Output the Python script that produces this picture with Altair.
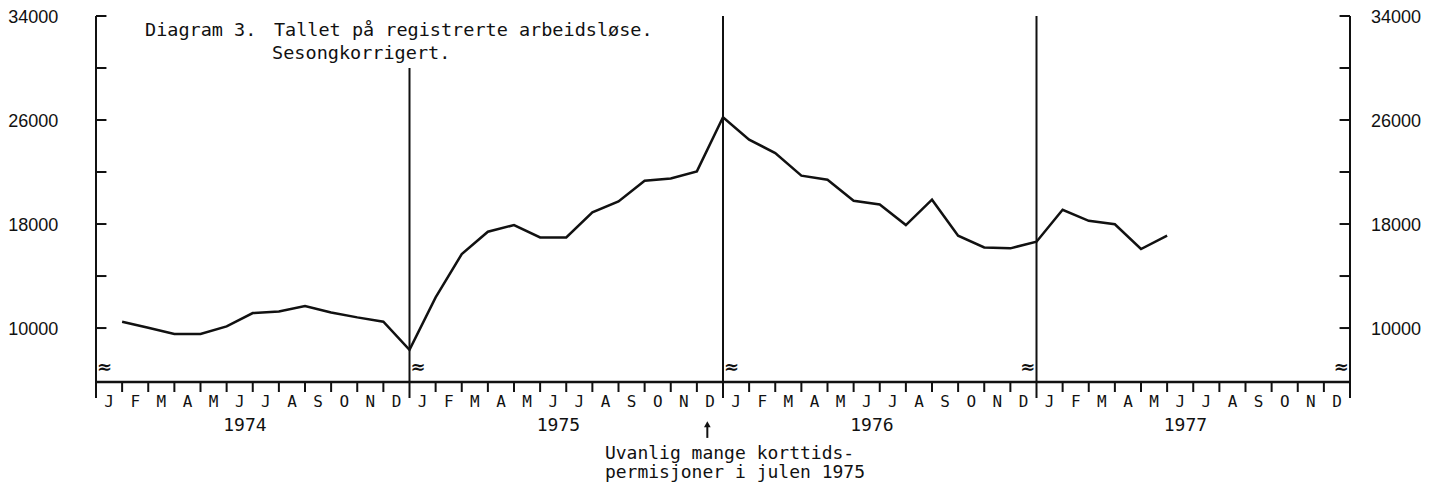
import altair as alt
import pandas as pd

# ---- data ----
month_letters = ["J", "F", "M", "A", "M", "J", "J", "A", "S", "O", "N", "D"]
years = [1974, 1975, 1976, 1977]
v1974 = [10490, 10020, 9540, 9540, 10130, 11150, 11280, 11690, 11200, 10820, 10490, 8330]
v1975 = [12360, 15690, 17410, 17920, 16970, 16970, 18900, 19740, 21330, 21510, 22050, 26210]
v1976 = [24490, 23460, 21720, 21410, 19790, 19510, 17920, 19870, 17100, 16200, 16130, 16640]
v1977 = [19100, 18250, 17980, 16080, 17100]
y_tick_values = [10000, 14000, 18000, 22000, 26000, 30000, 34000]
y_label_values = [10000, 18000, 26000, 34000]
title_1 = "Diagram 3."
title_2 = "Tallet på registrerte arbeidsløse."
title_3 = "Sesongkorrigert."
note_1 = "Uvanlig mange korttids-"
note_2 = "permisjoner i julen 1975"

Y_MIN, Y_MAX = 5850, 34000
N_MONTHS = 48
BLACK = "#111111"
MONO = "DejaVu Sans Mono"
SANS = "Liberation Sans"

xs = alt.Scale(domain=[0, N_MONTHS], nice=False, zero=False)
ys = alt.Scale(domain=[Y_MIN, Y_MAX], nice=False, zero=False)


def X(f):
    return alt.X(f"{f}:Q", scale=xs, axis=None)


def Y(f):
    return alt.Y(f"{f}:Q", scale=ys, axis=None)


# series: value of month plotted at end of month cell
values = v1974 + v1975 + v1976 + v1977
line_df = pd.DataFrame({"m": [i + 1 for i in range(len(values))], "v": values})
line = alt.Chart(line_df).mark_line(color=BLACK, strokeWidth=2.5).encode(x=X("m"), y=Y("v"))

# vertical lines: axes and year separators
vlines_df = pd.DataFrame({
    "x": [0, 12, 24, 36, 48],
    "top": [34000, 30000, 34000, 34000, 34000],
    "bot": [4620] * 5,
})
vlines = alt.Chart(vlines_df).mark_rule(color=BLACK, strokeWidth=2).encode(
    x=X("x"), y=Y("top"), y2="bot:Q")

# baseline
base_df = pd.DataFrame({"x": [0], "x2": [N_MONTHS], "y": [Y_MIN]})
base = alt.Chart(base_df).mark_rule(color=BLACK, strokeWidth=2.5).encode(
    x=X("x"), x2="x2:Q", y=Y("y"))

# month ticks
mt = [i for i in range(1, N_MONTHS) if i % 12 != 0]
mticks_df = pd.DataFrame({"x": mt, "y": [Y_MIN] * len(mt), "y2": [5080] * len(mt)})
mticks = alt.Chart(mticks_df).mark_rule(color=BLACK, strokeWidth=2).encode(
    x=X("x"), y=Y("y"), y2="y2:Q")

# y ticks (inward, both sides)
yt_rows = []
for v in y_tick_values:
    yt_rows.append({"x": 0, "x2": 0.4, "y": v})
    yt_rows.append({"x": N_MONTHS - 0.4, "x2": N_MONTHS, "y": v})
yticks = alt.Chart(pd.DataFrame(yt_rows)).mark_rule(color=BLACK, strokeWidth=2).encode(
    x=X("x"), x2="x2:Q", y=Y("y"))

# y labels
yl_left = pd.DataFrame({"x": [-1.44] * 4, "y": y_label_values, "t": [str(v) for v in y_label_values]})
yl_right = pd.DataFrame({"x": [48.8] * 4, "y": y_label_values, "t": [str(v) for v in y_label_values]})
ylab_l = alt.Chart(yl_left).mark_text(font=SANS, fontSize=18, align="right", baseline="middle",
                                      color=BLACK, dy=2).encode(x=X("x"), y=Y("y"), text="t:N")
ylab_r = alt.Chart(yl_right).mark_text(font=SANS, fontSize=18, align="left", baseline="middle",
                                       color=BLACK, dy=2).encode(x=X("x"), y=Y("y"), text="t:N")

# month letters
ml_df = pd.DataFrame({
    "x": [i + 0.5 for i in range(N_MONTHS)],
    "y": [4308] * N_MONTHS,
    "t": [month_letters[i % 12] for i in range(N_MONTHS)],
})
mlab = alt.Chart(ml_df).mark_text(font=MONO, fontSize=16, align="center", baseline="middle",
                                  color=BLACK).encode(x=X("x"), y=Y("y"), text="t:N")

# year labels
yr_df = pd.DataFrame({"x": [k * 12 + 5.7 for k in range(len(years))],
                      "y": [2460] * len(years), "t": [str(y) for y in years]})
yrlab = alt.Chart(yr_df).mark_text(font=MONO, fontSize=18, align="center", baseline="middle",
                                   color=BLACK).encode(x=X("x"), y=Y("y"), text="t:N")

# title
title_df = pd.DataFrame({
    "x": [1.876, 6.81, 6.74],
    "y": [32923, 32923, 31154],
    "t": [title_1, title_2, title_3],
})
title = alt.Chart(title_df).mark_text(font=MONO, fontSize=18.5, align="left", baseline="middle",
                                      color=BLACK).encode(x=X("x"), y=Y("y"), text="t:N")

# annotation
note_df = pd.DataFrame({"x": [19.48, 19.48], "y": [293, -1154], "t": [note_1, note_2]})
note = alt.Chart(note_df).mark_text(font=MONO, fontSize=18, align="left", baseline="middle",
                                    color=BLACK).encode(x=X("x"), y=Y("y"), text="t:N")
arrow_df = pd.DataFrame({"x": [23.4], "y": [2600], "y2": [1550]})
arrow_shaft = alt.Chart(arrow_df).mark_rule(color=BLACK, strokeWidth=2).encode(
    x=X("x"), y=Y("y"), y2="y2:Q")
arrow_head = alt.Chart(arrow_df).mark_point(shape="triangle-up", filled=True, color=BLACK,
                                            size=45, opacity=1).encode(x=X("x"), y=Y("y"))

# axis-break squiggles
sq_df = pd.DataFrame({
    "x": [0.33, 12.33, 24.33, 35.67, 47.67],
    "y": [6923] * 5,
    "t": ["≈"] * 5,
})
squig = alt.Chart(sq_df).mark_text(font="DejaVu Sans", fontSize=18, fontWeight="bold",
                                   align="center", baseline="middle", color=BLACK).encode(
    x=X("x"), y=Y("y"), text="t:N")

chart = alt.layer(
    vlines, base, mticks, yticks, line, ylab_l, ylab_r, mlab, yrlab, title, note,
    arrow_shaft, arrow_head, squig
).properties(
    width=1254, height=366,
    padding={"left": 88, "top": 8, "right": 78, "bottom": 104},
    autosize=alt.AutoSizeParams(type="none"),
    background="white",
).configure_view(stroke=None)

chart.save("out.html", embed_options={"renderer": "svg", "actions": False})
